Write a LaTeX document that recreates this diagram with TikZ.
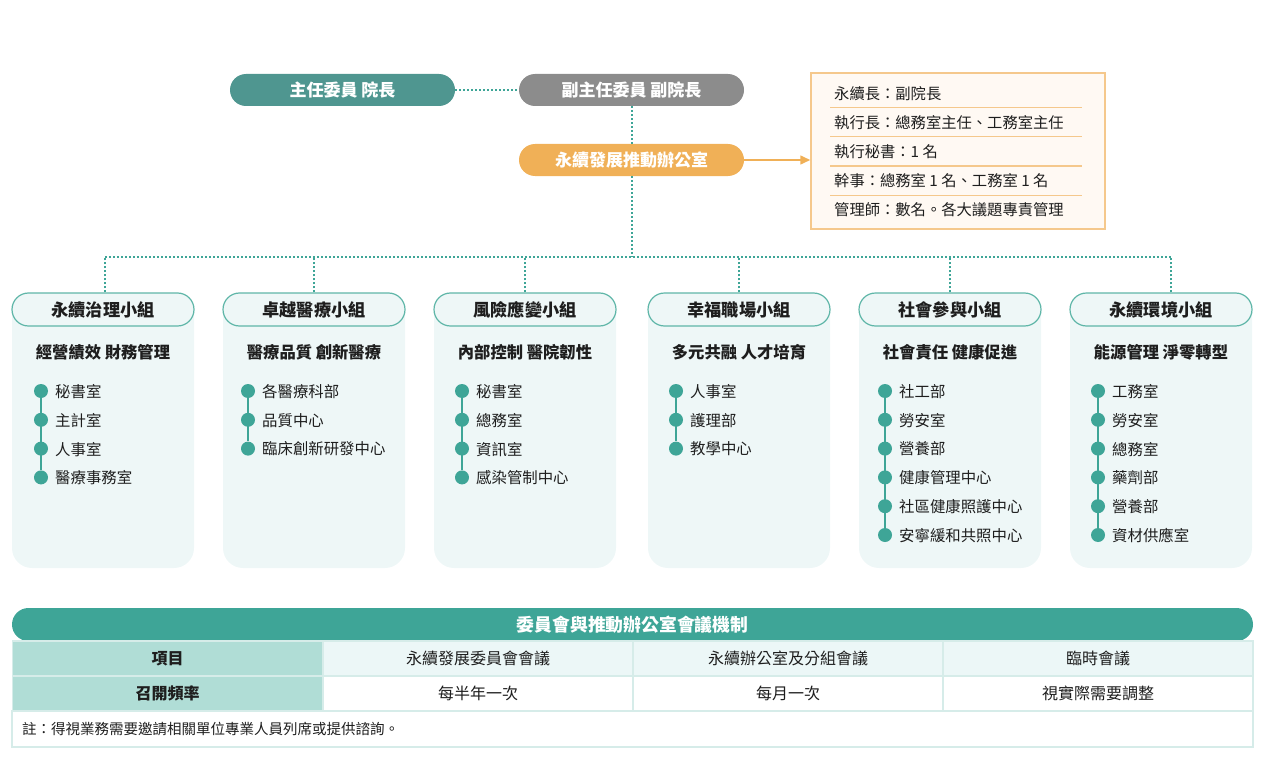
\documentclass[tikz,border=0pt]{standalone}
\usepackage{fontspec}
\setmainfont{Noto Sans CJK TC}
\usetikzlibrary{arrows.meta,calc}
\definecolor{tealdark}{RGB}{79,150,144}
\definecolor{greyp}{RGB}{140,140,140}
\definecolor{orangep}{RGB}{240,176,87}
\definecolor{tealc}{RGB}{62,165,151}
\definecolor{headbd}{RGB}{95,182,168}
\definecolor{bodyc}{RGB}{238,247,247}
\definecolor{colone}{RGB}{176,221,214}
\definecolor{rowone}{RGB}{236,247,247}
\definecolor{gridc}{RGB}{214,236,233}
\definecolor{infofill}{RGB}{255,249,243}
\definecolor{infobd}{RGB}{245,200,140}
\definecolor{txt}{RGB}{30,30,30}
\begin{document}
\begin{tikzpicture}[x=1pt,y=-1pt,
  pill/.style={rounded corners=16pt, minimum width=225pt, minimum height=32pt, inner sep=0pt,
    text=white, font=\bfseries\fontsize{17}{20}\selectfont},
  dotline/.style={tealc, line width=2pt, dash pattern=on 2pt off 2pt},
  ghead/.style={draw=headbd, line width=1.2pt, fill=bodyc, rounded corners=16.5pt,
    minimum width=182pt, minimum height=33pt, inner sep=0pt, text=txt,
    font=\bfseries\fontsize{17.2}{20}\selectfont},
  gsub/.style={text=txt, inner sep=0pt, font=\bfseries\fontsize{16.3}{19}\selectfont},
  bdot/.style={circle, fill=tealc, minimum size=14pt, inner sep=0pt},
  item/.style={text=txt, inner sep=0pt, anchor=west, font=\fontsize{15.4}{18}\selectfont},
  infotext/.style={text=txt, inner sep=0pt, anchor=west, font=\fontsize{15.3}{18}\selectfont},
  sepline/.style={infobd, line width=1pt},
  cell/.style={draw=gridc, line width=1.5pt, minimum width=310pt, minimum height=35pt,
    inner sep=0pt, text=txt, font=\fontsize{16}{19}\selectfont},
  hcell/.style={cell, fill=colone, font=\bfseries\fontsize{16}{19}\selectfont}
]
\useasboundingbox (0,0) rectangle (1269,757);

% top nodes
\node[pill, fill=tealdark] (chair) at (342.5,90) {主任委員 院長};
\node[pill, fill=greyp] (vice) at (631.5,90) {副主任委員 副院長};
\node[pill, fill=orangep] (office) at (631.5,160) {永續發展推動辦公室};
\draw[dotline] (chair.east) -- (vice.west);
\draw[dotline] (vice.south) -- (office.north);

% info box
\node[draw=infobd, line width=1.5pt, fill=infofill, minimum width=294pt, minimum height=156pt, inner sep=0pt] (info) at (958,151) {};
\node[infotext] (i1) at (834,93.5) {永續長：副院長};
\node[infotext] (i2) at (834,122.5) {執行長：總務室主任、工務室主任};
\node[infotext] (i3) at (834,151.5) {執行秘書：1 名};
\node[infotext] (i4) at (834,180.5) {幹事：總務室 1 名、工務室 1 名};
\node[infotext] (i5) at (834,209.5) {管理師：數名。各大議題專責管理};
\foreach \yy in {108,137,166,195} \draw[sepline] (830,\yy) -- (1082,\yy);
\draw[orangep, line width=1.5pt, -{Triangle[length=10pt,width=9pt]}] (office.east) -- (office.east -| info.west);

% bus
\coordinate (busL) at (105,257);
\coordinate (busR) at (1171,257);
\draw[dotline] (busL) -- (busR);
\draw[dotline] (office.south) -- (office.south |- busL);

% groups
\foreach \i/\xl/\dx/\off/\n/\title/\sub/\items in {
  1/12/41/1.5/4/永續治理小組/經營績效 財務管理/{秘書室,主計室,人事室,醫療事務室},
  2/223/248/0/3/卓越醫療小組/醫療品質 創新醫療/{各醫療科部,品質中心,臨床創新研發中心},
  3/434/462/0/4/風險應變小組/內部控制 醫院韌性/{秘書室,總務室,資訊室,感染管制中心},
  4/648/676/0/3/幸福職場小組/多元共融 人才培育/{人事室,護理部,教學中心},
  5/859/885/0/6/社會參與小組/社會責任 健康促進/{社工部,勞安室,營養部,健康管理中心,社區健康照護中心,安寧緩和共照中心},
  6/1070/1098/10/6/永續環境小組/能源管理 淨零轉型/{工務室,勞安室,總務室,藥劑部,營養部,資材供應室}} {
  \fill[bodyc, rounded corners=20pt] (\xl,309) -- (\xl,568) -- (\xl+182,568) -- (\xl+182,309);
  \node[ghead] (g\i) at (\xl+91,309.5) {\title};
  \draw[dotline] ([xshift=\off pt]g\i.north) -- ([xshift=\off pt]g\i.north |- busL);
  \node[gsub] (s\i) at (\xl+91,352.5) {\sub};
  \foreach \it [count=\j] in \items {
    \node[bdot] (d\i-\j) at (\dx,391+28.8*\j-28.8) {};
    \node[item] (t\i-\j) at (\dx+14,391.5+28.8*\j-28.8) {\it};
  }
  \draw[tealc, line width=1.8pt] (d\i-1) -- (d\i-\n);
}

% table
\node[fill=tealc, rounded corners=16.5pt, minimum width=1241pt, minimum height=33pt, inner sep=0pt,
  text=white, font=\bfseries\fontsize{17.8}{21}\selectfont] (tt) at (632.5,624.5) {委員會與推動辦公室會議機制};
\node[hcell] (c11) at (167.5,658.5) {項目};
\node[cell, fill=rowone] (c12) at (478,658.5) {永續發展委員會會議};
\node[cell, fill=rowone] (c13) at (788,658.5) {永續辦公室及分組會議};
\node[cell, fill=rowone] (c14) at (1098,658.5) {臨時會議};
\node[hcell] (c21) at (167.5,693.5) {召開頻率};
\node[cell, fill=white] (c22) at (478,693.5) {每半年一次};
\node[cell, fill=white] (c23) at (788,693.5) {每月一次};
\node[cell, fill=white] (c24) at (1098,693.5) {視實際需要調整};
\node[draw=gridc, line width=1.5pt, minimum width=1241pt, minimum height=36pt, inner sep=0pt] (note) at (632.5,729) {};
\node[text=txt, inner sep=0pt, anchor=west, font=\fontsize{14.5}{17}\selectfont] (notetext) at (22,729) {註：得視業務需要邀請相關單位專業人員列席或提供諮詢。};
\end{tikzpicture}
\end{document}
